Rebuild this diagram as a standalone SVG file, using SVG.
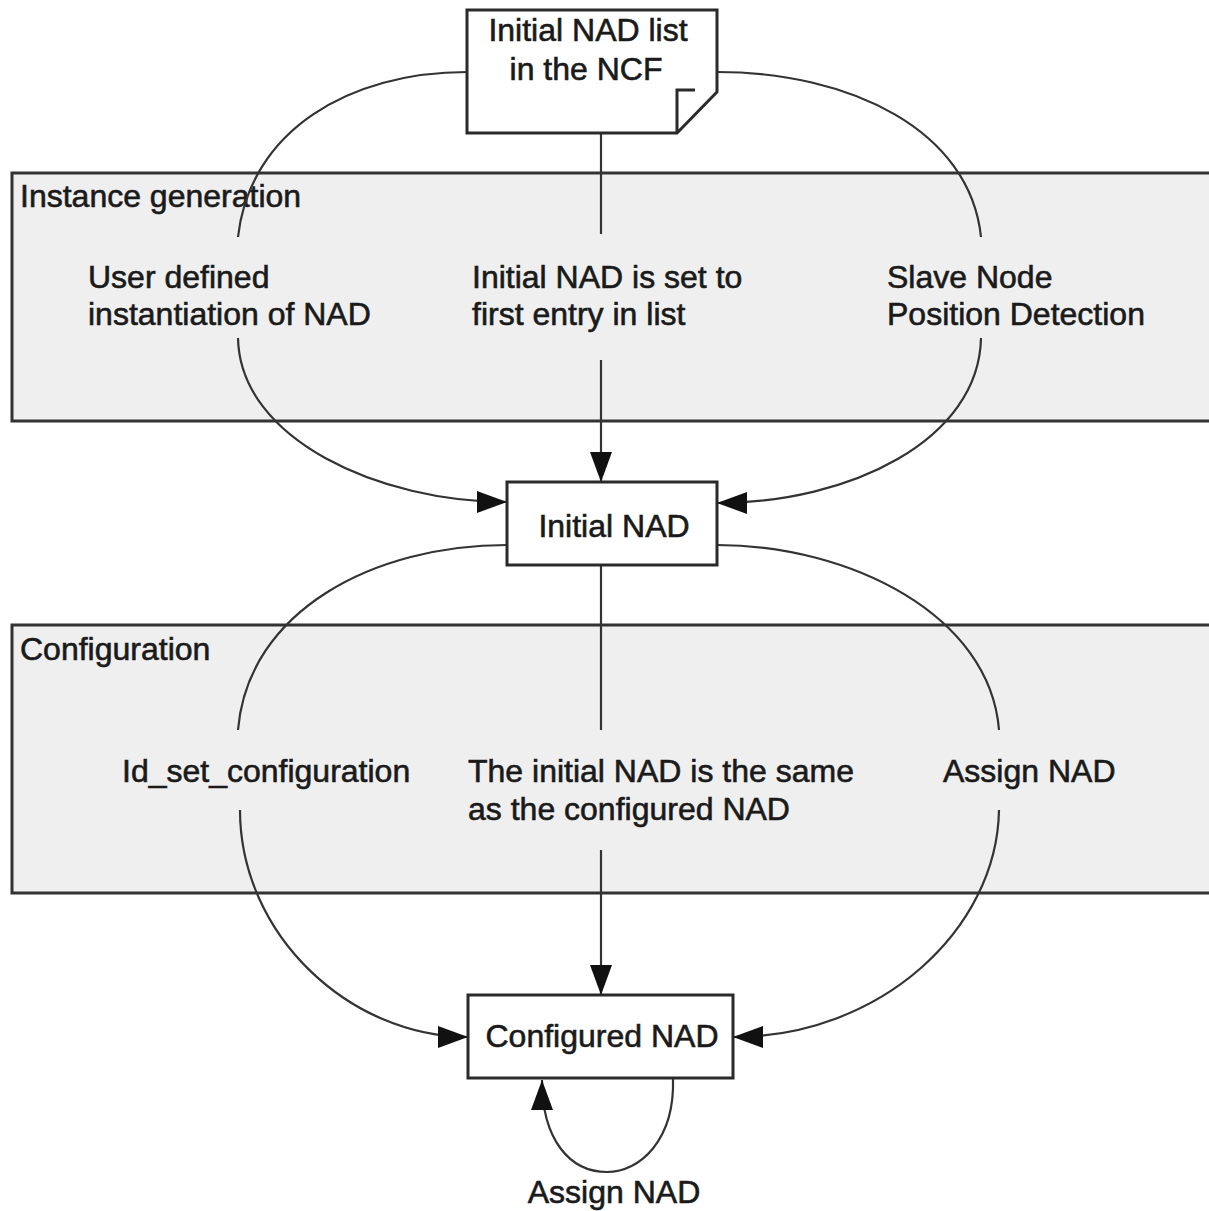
<svg xmlns="http://www.w3.org/2000/svg" width="1209" height="1211" viewBox="0 0 1209 1211">
<style>
  .lane{fill:#efefef;stroke:#333;stroke-width:3}
  .box{fill:#fff;stroke:#2a2a2a;stroke-width:3}
  .conn{fill:none;stroke:#333;stroke-width:2.2}
  text{font-family:"Liberation Sans",Arial,sans-serif;font-size:32px;fill:#1a1a1a;stroke:#1a1a1a;stroke-width:0.6}
  .c{text-anchor:middle}
</style>
<defs>
  <marker id="arr" markerUnits="userSpaceOnUse" markerWidth="30" markerHeight="22" refX="30" refY="11" orient="auto">
    <path d="M0,0 L30,11 L0,22 z" fill="#111"/>
  </marker>
</defs>
<rect width="1209" height="1211" fill="#fff"/>
<g id="lane-instance">
  <rect class="lane" x="12" y="173" width="1210" height="248"/>
  <text x="20" y="207">Instance generation</text>
</g>
<g id="lane-configuration">
  <rect class="lane" x="12" y="625" width="1210" height="268"/>
  <text x="20" y="660">Configuration</text>
</g>
<g id="connectors">
  <path class="conn" d="M601,133 V234"/>
  <path class="conn" d="M601,360 V482" marker-end="url(#arr)"/>
  <path class="conn" d="M467,72 C350,72 250,130 238,237"/>
  <path class="conn" d="M238,338 C240,440 380,502 507,502" marker-end="url(#arr)"/>
  <path class="conn" d="M717,72 C850,72 970,130 981,237"/>
  <path class="conn" d="M981,338 C979,440 850,503 717,503" marker-end="url(#arr)"/>
  <path class="conn" d="M601,565 V730"/>
  <path class="conn" d="M601,850 V995" marker-end="url(#arr)"/>
  <path class="conn" d="M507,545 C375,545 248,610 238,730"/>
  <path class="conn" d="M240,810 C240,935 350,1037 468,1037" marker-end="url(#arr)"/>
  <path class="conn" d="M717,545 C850,545 990,615 999,730"/>
  <path class="conn" d="M999,810 C997,930 880,1037 733,1037" marker-end="url(#arr)"/>
  <path class="conn" d="M673,1078 C675,1140 640,1172 607,1172 C570,1172 542,1140 542,1080" marker-end="url(#arr)"/>
</g>
<g id="label-user">
  <text x="88" y="288">User defined</text>
  <text x="88" y="325">instantiation of NAD</text>
</g>
<g id="label-first">
  <text x="472" y="288">Initial NAD is set to</text>
  <text x="472" y="325">first entry in list</text>
</g>
<g id="label-slave">
  <text x="887" y="288">Slave Node</text>
  <text x="887" y="325">Position Detection</text>
</g>
<g id="label-idset">
  <text x="122" y="782">Id_set_configuration</text>
</g>
<g id="label-same">
  <text x="468" y="782">The initial NAD is the same</text>
  <text x="468" y="820">as the configured NAD</text>
</g>
<g id="label-assign">
  <text x="943" y="782">Assign NAD</text>
</g>
<g id="label-assign-loop">
  <text class="c" x="614" y="1203">Assign NAD</text>
</g>
<g id="node-ncf">
  <path class="box" d="M467,10 H717 V92 L677,133 H467 Z"/>
  <path class="conn" d="M677,133 V90 H695" style="stroke:#2a2a2a;stroke-width:3"/>
  <text class="c" x="588" y="41">Initial NAD list</text>
  <text class="c" x="586" y="80">in the NCF</text>
</g>
<g id="node-initial">
  <rect class="box" x="507" y="482" width="210" height="83"/>
  <text class="c" x="614" y="537">Initial NAD</text>
</g>
<g id="node-configured">
  <rect class="box" x="468" y="995" width="265" height="83"/>
  <text class="c" x="602" y="1047">Configured NAD</text>
</g>
</svg>
